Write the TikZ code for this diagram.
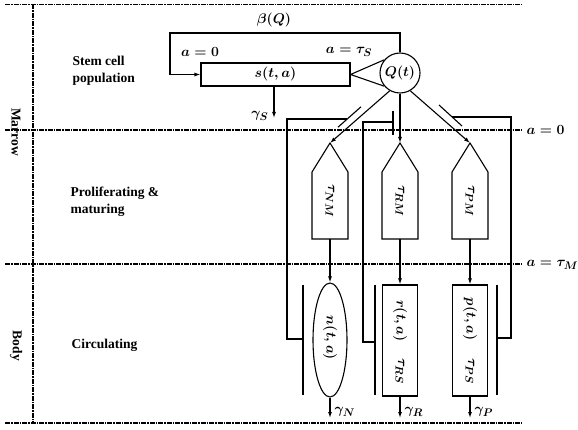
\RequirePackage{fix-cm}
\documentclass[tikz,border=0pt]{standalone}
\usepackage{fontspec}
\setmainfont{Liberation Serif}
\DeclareMathSizes{14}{14}{11}{8}
\usetikzlibrary{arrows.meta,shapes.geometric}
\begin{document}
\begin{tikzpicture}[x=1pt,y=-1pt, line width=1.1pt,
  font=\fontsize{14}{17}\selectfont\boldmath,
  arr/.style={-{Latex[length=6pt,width=4pt]}},
  sep/.style={line width=1.1pt, dash pattern=on 5pt off 1pt on 1.5pt off 1pt},
  lbl/.style={font=\fontsize{13.5}{17}\selectfont\bfseries, align=left, inner sep=0pt},
  vlbl/.style={font=\fontsize{13.5}{17}\selectfont\bfseries, rotate=-90, inner sep=0pt},
  rtxt/.style={rotate=-90, inner sep=0pt},
  mtxt/.style={inner sep=1pt},
  house/.pic={
    \draw (-18,48) -- (-18,-19) -- (0,-48) -- (18,-19) -- (18,48) -- cycle;
    \coordinate (-top) at (0,-48);
    \coordinate (-bot) at (0,48);
  }]
\useasboundingbox (0,0) rectangle (578,430);

% region separators
\draw[sep] (5,4.5) -- (522,4.5);
\draw[sep] (5,130) -- (522,130);
\draw[sep] (5,264) -- (522,264);
\draw[sep] (5,423) -- (522,423);
\draw[sep] (33,4.5) -- (33,423);

% side labels
\node[vlbl] (marrow) at (16,132) {Marrow};
\node[vlbl] (body) at (16,346) {Body};
\node[lbl, anchor=west] (stem) at (72,71) {Stem cell\\population};
\node[lbl, anchor=west] (prolif) at (70,201.5) {Proliferating \&\\maturing};
\node[lbl, anchor=west] (circ) at (71,345) {Circulating};
\node[mtxt, anchor=west] (a0) at (525,130) {$a=0$};
\node[mtxt, anchor=west] (aM) at (525,265) {$a=\tau_M$};

% stem cell compartment
\node[draw, minimum width=149pt, minimum height=23pt, inner sep=0pt] (s) at (275.5,74.5) {$s(t,a)$};
\node[draw, circle, minimum size=40pt, inner sep=0pt] (Q) at (400,73) {$Q(t)$};
\coordinate (fbc) at (170,33);
\draw[arr] (Q.north) |- (fbc) |- (s.west);
\draw (Q.140) -- (s.east) -- (Q.220);
\node[mtxt] (beta) at (274,20) {$\beta(Q)$};
\node[mtxt] (aeq0) at (200,52) {$a=0$};
\node[mtxt] (atauS) at (349,52) {$a=\tau_S$};
\coordinate (gS) at (274,118);
\draw[arr] (s.south -| gS) -- (gS);
\node[mtxt, anchor=east] (gSl) at (270,116) {$\gamma_S$};

% maturing compartments
\pic (NM) at (330,191) {house};
\pic (RM) at (400,191) {house};
\pic (PM) at (470,191) {house};
\node[rtxt] (tNM) at (330,201) {$\tau_{NM}$};
\node[rtxt] (tRM) at (400,201) {$\tau_{RM}$};
\node[rtxt] (tPM) at (470,201) {$\tau_{PM}$};
\draw[arr] (Q.240) -- (NM-top);
\draw[arr] (Q.south) -- (RM-top);
\draw[arr] (Q.300) -- (PM-top);

% circulating compartments
\node[draw, ellipse, minimum width=34pt, minimum height=114pt, inner sep=0pt] (N) at (330,340) {};
\node[draw, minimum width=35pt, minimum height=111pt, inner sep=0pt] (R) at (400,340.5) {};
\node[draw, minimum width=35pt, minimum height=111pt, inner sep=0pt] (P) at (470,340.5) {};
\node[rtxt] (nta) at (330,338) {$n(t,a)$};
\node[rtxt] (rta) at (400,321) {$r(t,a)$};
\node[rtxt] (tRS) at (400,371) {$\tau_{RS}$};
\node[rtxt] (pta) at (470,319) {$p(t,a)$};
\node[rtxt] (tPS) at (470,371) {$\tau_{PS}$};
\draw[arr] (NM-bot) -- (N.north);
\draw[arr] (RM-bot) -- (R.north);
\draw[arr] (PM-bot) -- (P.north);
\coordinate (gN) at (330,418);
\coordinate (gR) at (400,418);
\coordinate (gP) at (470,418);
\draw[arr] (N.south) -- (gN);
\draw[arr] (R.south) -- (gR);
\draw[arr] (P.south) -- (gP);
\node[mtxt, anchor=west] (gNl) at (333,412) {$\gamma_N$};
\node[mtxt, anchor=west] (gRl) at (403,412) {$\gamma_R$};
\node[mtxt, anchor=west] (gPl) at (473,412) {$\gamma_P$};

% feedback loops
\draw (303,285) -- (303,395);
\draw (303,339) -- (287,339) -- (287,119) -- (347.3,119);
\draw (338,127.2) -- (361,106.8);
\draw (375,285) -- (375,395);
\draw (375,342) -- (363,342) -- (363,122) -- (393,122);
\draw (393,111) -- (393,135);
\draw (497,285) -- (497,395);
\draw (497,338) -- (511,338) -- (511,117) -- (452,117);
\draw (439,105) -- (462,126);
\end{tikzpicture}
\end{document}
